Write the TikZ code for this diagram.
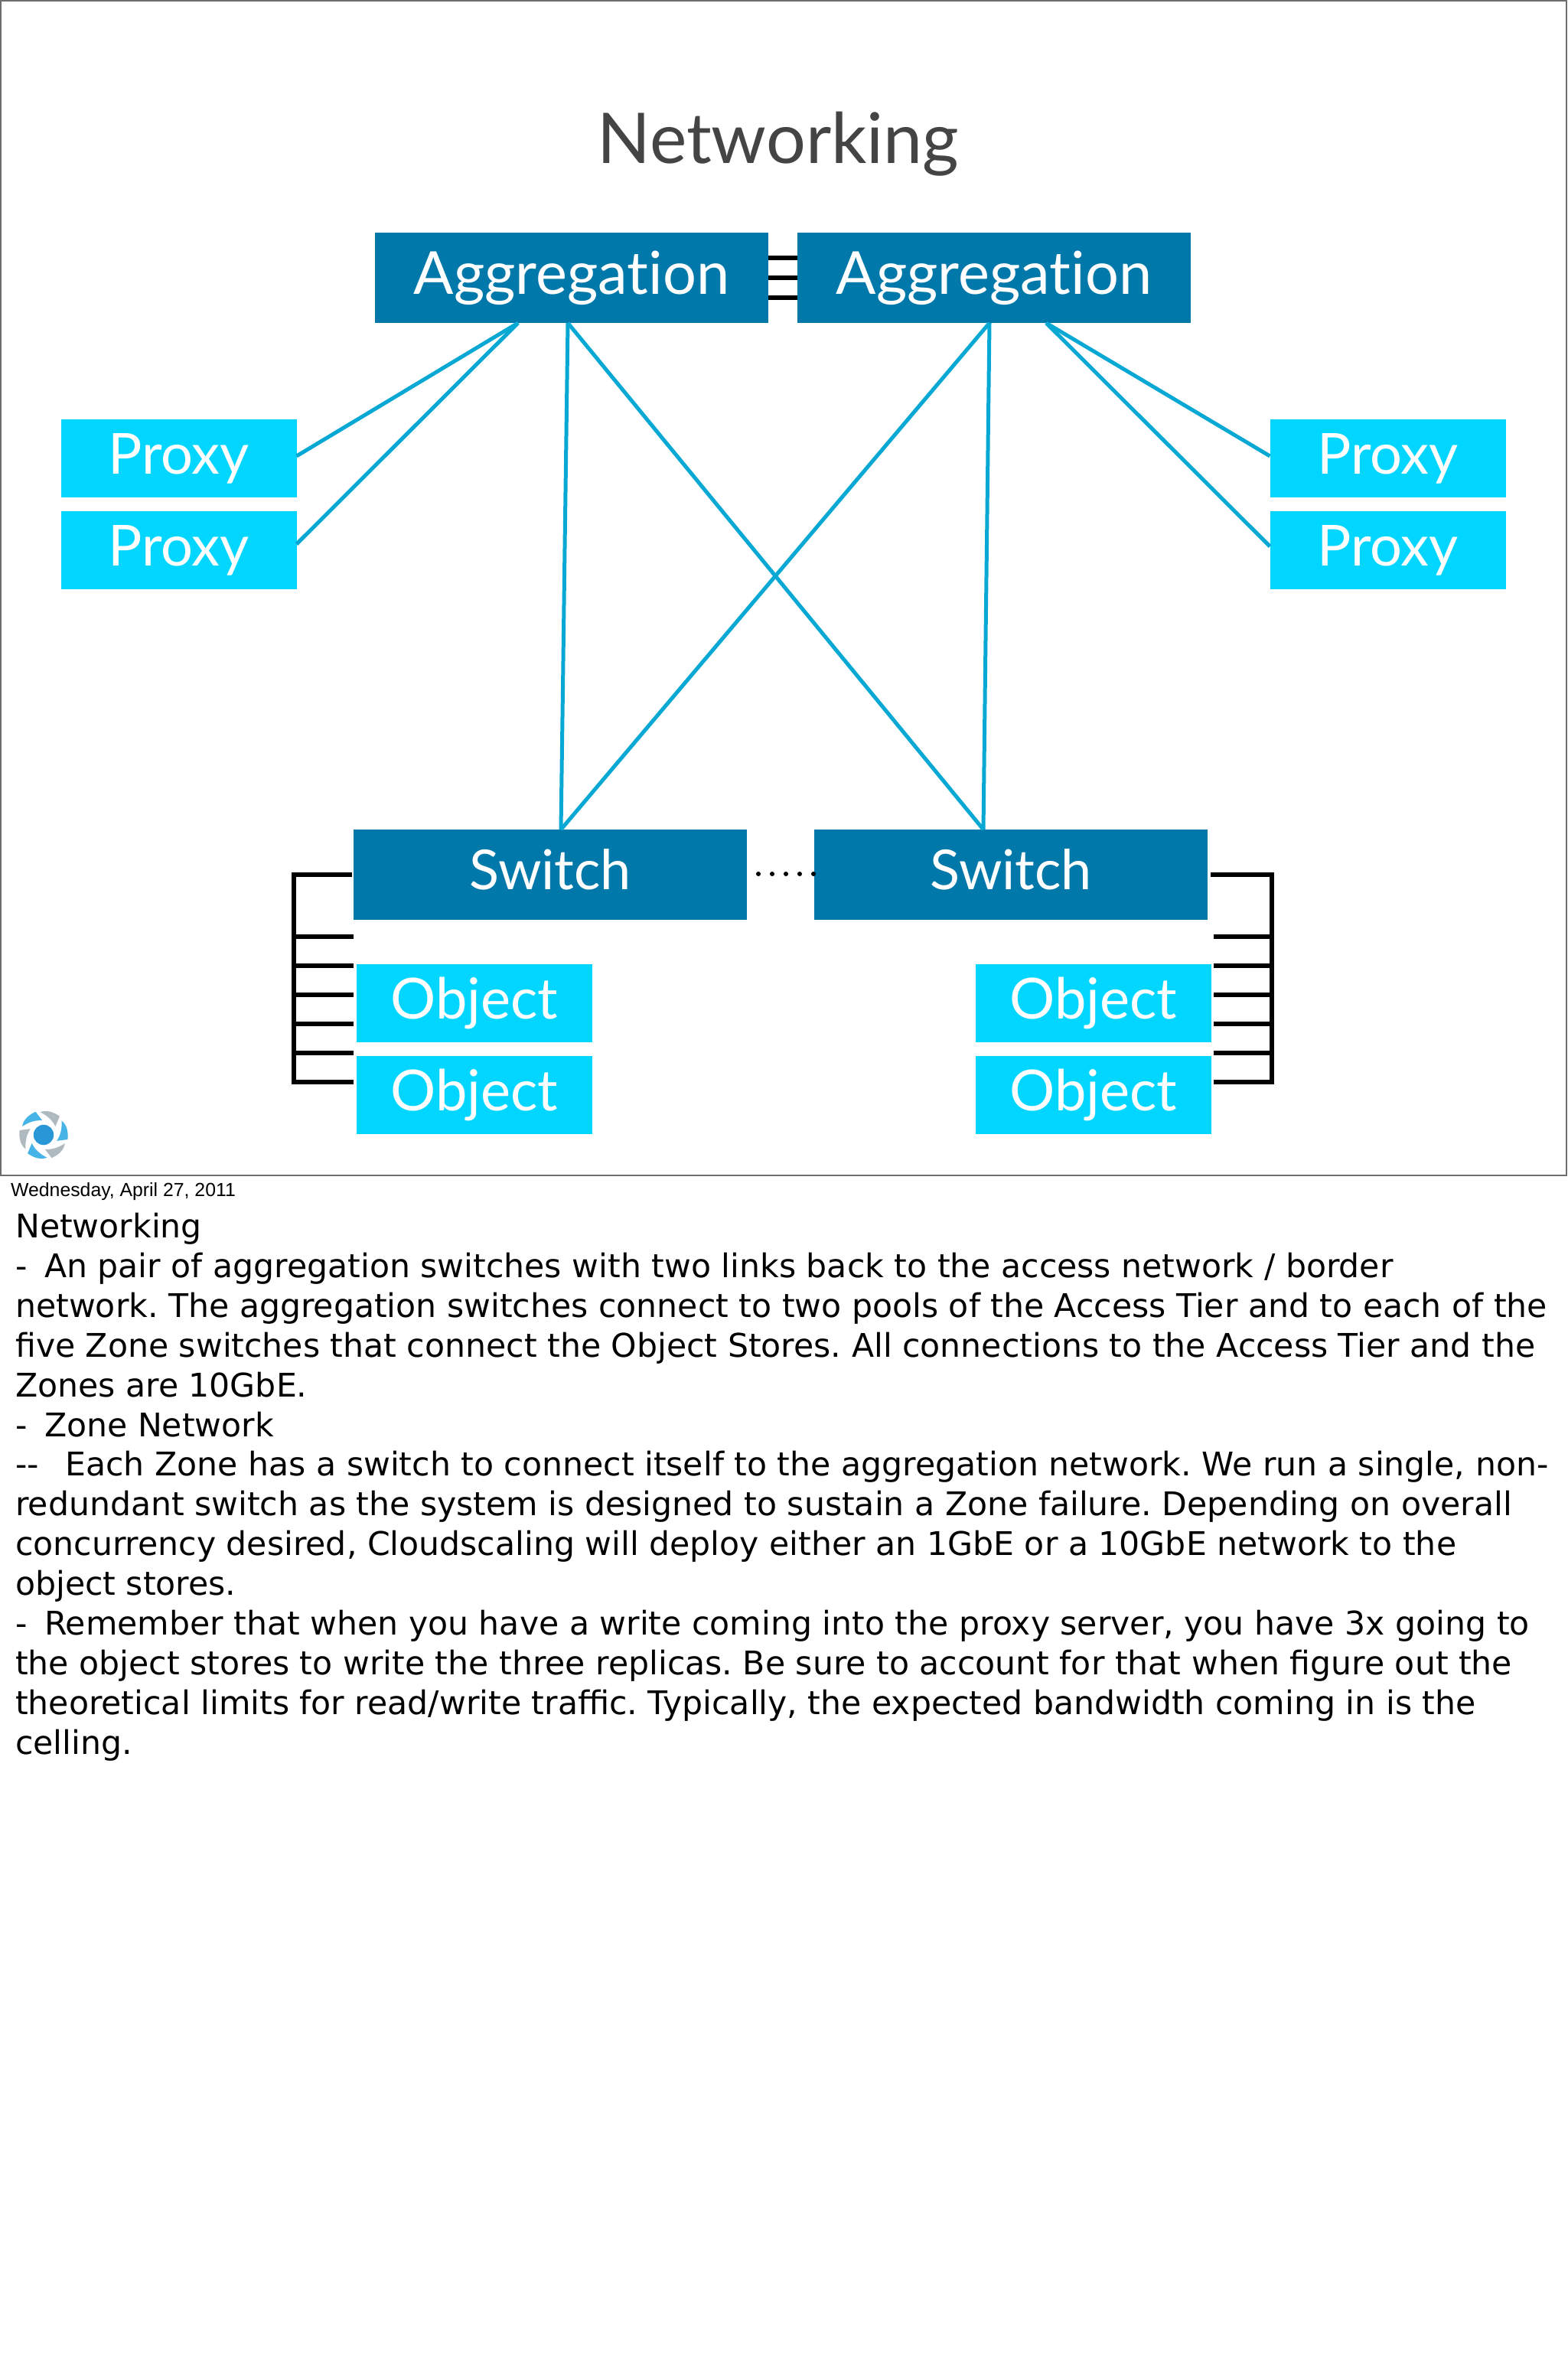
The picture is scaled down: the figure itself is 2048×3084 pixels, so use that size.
\documentclass[tikz,border=0pt]{standalone}
\usepackage{fontspec}
\setmainfont{DejaVu Sans}
\newfontfamily\slidefont[Ligatures=NoCommon]{Lato}
\newfontfamily\datefont{Liberation Sans}
\usepackage{tikz}
\usetikzlibrary{calc}
\definecolor{aggBlue}{RGB}{0, 120, 170}
\definecolor{leafCyan}{RGB}{0, 214, 255}
\definecolor{linkTeal}{RGB}{8, 168, 212}
\definecolor{titleGray}{RGB}{68, 68, 68}
\definecolor{logoBlue}{RGB}{40, 150, 215}
\definecolor{logoSky}{RGB}{70, 180, 230}
\definecolor{logoGray}{RGB}{175, 185, 192}
\newcommand{\notedash}{-\kern9pt\ }
\tikzset{
  coreBox/.style={fill=aggBlue, text=white, inner sep=0pt, outer sep=0pt, minimum width=514pt, minimum height=118pt, text height=54pt, text depth=16pt, font=\slidefont\fontsize{72}{80}\selectfont},
  aggBox/.style={coreBox, text height=58pt, font=\slidefont\fontsize{77.5}{80}\selectfont},
  leafBox/.style={fill=leafCyan, text=white, inner sep=0pt, outer sep=0pt, minimum width=308pt, minimum height=102pt, font=\slidefont\fontsize{74}{80}\selectfont},
  link/.style={line width=5pt, linkTeal},
  wire/.style={line width=6pt, black}
}
\begin{document}
\begin{tikzpicture}[x=1pt, y=-1pt]
  \useasboundingbox (0,0) rectangle (2048,3084);
  \fill[white] (0,0) rectangle (2048,3084);
  % slide frame
  \draw[line width=2.5pt, gray!85!black] (1,1) rectangle (2047,1536);
  \node[titleGray, font=\slidefont\fontsize{91.5}{100}\selectfont] (title) at (1017,188) {Networking};
  % top row
  \node[aggBox] (aggL) at (747,363) {Aggregation};
  \node[aggBox] (aggR) at (1299,363) {Aggregation};
  \node[leafBox] (proxyLa) at (233.5,599) {Proxy};
  \node[leafBox] (proxyLb) at (233.5,719) {Proxy};
  \node[leafBox] (proxyRa) at (1813.5,599) {Proxy};
  \node[leafBox] (proxyRb) at (1813.5,719) {Proxy};
  % bottom row
  \node[coreBox] (switchL) at (719,1143) {Switch};
  \node[coreBox] (switchR) at (1321,1143) {Switch};
  \node[leafBox] (objectLa) at (620,1311) {Object};
  \node[leafBox] (objectLb) at (620,1431) {Object};
  \node[leafBox] (objectRa) at (1429,1311) {Object};
  \node[leafBox] (objectRb) at (1429,1431) {Object};
  % links between the two aggregation boxes
  \foreach \dy in {-26,0,26}
    \draw[wire] ($(aggL.east)+(0,\dy)$) -- ($(aggR.west)+(0,\dy)$);
  % uplinks
  \coordinate (aggLp) at ($(aggL.south)+(-70,0)$);
  \coordinate (aggLs) at ($(aggL.south)+(-5,0)$);
  \coordinate (aggRs) at ($(aggR.south)+(-6,0)$);
  \coordinate (aggRp) at ($(aggR.south)+(68,0)$);
  \coordinate (switchLu) at ($(switchL.north)+(14,0)$);
  \coordinate (switchRu) at ($(switchR.north)+(-36,0)$);
  \draw[link] ($(proxyLa.east)+(0,-3)$) -- (aggLp);
  \draw[link] ($(proxyLb.east)+(0,-8)$) -- (aggLp);
  \draw[link] ($(proxyRa.west)+(0,-3)$) -- (aggRp);
  \draw[link] ($(proxyRb.west)+(0,-5)$) -- (aggRp);
  \draw[link] (aggLs) -- (switchLu);
  \draw[link] (aggLs) -- (switchRu);
  \draw[link] (aggRs) -- (switchLu);
  \draw[link] (aggRs) -- (switchRu);
  % dotted gap between switches
  \draw[line width=6pt, line cap=round, dash pattern=on 0pt off 18pt] ($(switchL.east)+(15,-1)$) -- ($(switchR.west)+(1,-1)$);
  % object store wiring
  \draw[wire] ($(switchL.west)+(-2,0)$) -| (384,1414) -- (462,1414);
  \foreach \ty in {1224,1262,1300,1338,1376}
    \draw[wire] (384,\ty) -- (462,\ty);
  \draw[wire] ($(switchR.east)+(4,0)$) -| (1662,1414) -- (1586,1414);
  \foreach \ty in {1224,1262,1300,1338,1376}
    \draw[wire] (1662,\ty) -- (1586,\ty);
  % logo
  \begin{scope}[shift={(57,1483)}, scale=1.1]
    \foreach \a/\c in {0/logoGray,60/logoSky,120/logoGray,180/logoSky,240/logoGray,300/logoSky}
      \fill[\c, rotate=\a] (-4,-27) .. controls (4,-30) and (12,-27) .. (19,-22) -- (14,-10) .. controls (10,-18) and (4,-23) .. (-4,-27) -- cycle;
    \fill[logoBlue] (0,0) circle (12);
  \end{scope}
  % notes
  \node[anchor=base west, inner sep=0pt, font=\datefont\fontsize{24.8}{30}\selectfont] (date) at (14,1563) {Wednesday, April 27, 2011};
  \node[anchor=north west, inner sep=0pt, align=left, font=\fontsize{42.6}{51.9}\selectfont\frenchspacing] (notes) at (20,1585) {Networking\\
\notedash An pair of aggregation switches with two links back to the access network / border\\
network. The aggregation switches connect to two pools of the Access Tier and to each of the\\
five Zone switches that connect the Object Stores. All connections to the Access Tier and the\\
Zones are 10GbE.\\
\notedash Zone Network\\
-{}-\kern21pt\ Each Zone has a switch to connect itself to the aggregation network. We run a single, non-\\
redundant switch as the system is designed to sustain a Zone failure. Depending on overall\\
concurrency desired, Cloudscaling will deploy either an 1GbE or a 10GbE network to the\\
object stores.\\
\notedash Remember that when you have a write coming into the proxy server, you have 3x going to\\
the object stores to write the three replicas. Be sure to account for that when figure out the\\
theoretical limits for read/write traffic. Typically, the expected bandwidth coming in is the\\
celling.};
\end{tikzpicture}
\end{document}
